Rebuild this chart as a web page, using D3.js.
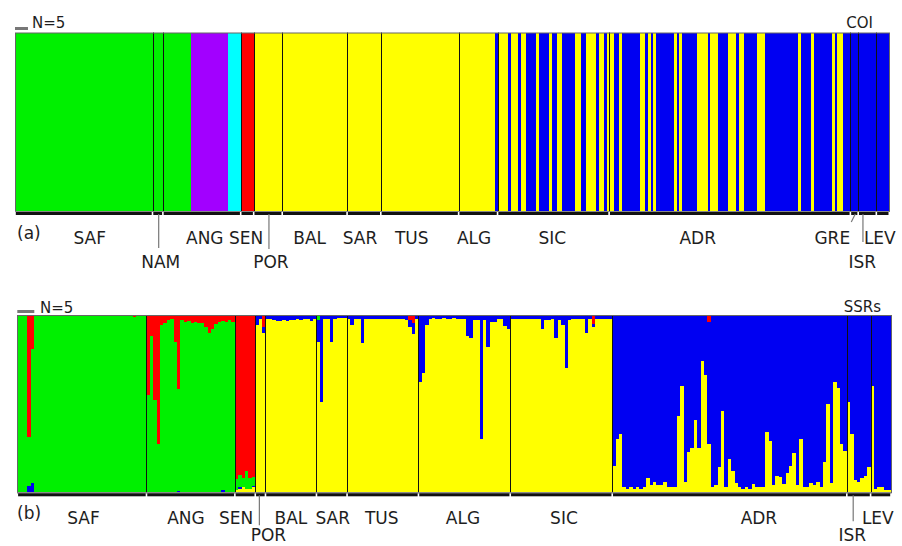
<!DOCTYPE html>
<html>
<head>
<meta charset="utf-8">
<script src="https://cdn.jsdelivr.net/npm/d3@7/dist/d3.min.js"></script>
<style>
body { margin: 0; background: #fff; }
text { font-family: "DejaVu Sans", Verdana, sans-serif; fill: #1e1e1e; }
</style>
</head>
<body>
<div id="chart"></div>
<script>
// ---------- (a) COI haplogroups ----------
var coiPops = ["SAF","NAM","ANG","SEN","POR","BAL","SAR","TUS","ALG","SIC","ADR","GRE","ISR","LEV"];
// runs of [haplogroup, number of individuals] inside each population
var coiRuns = [
  [["G",53]],
  [["G",4]],
  [["G",11],["P",14],["C",5]],
  [["R",5]],
  [["Y",11]],
  [["Y",25]],
  [["Y",13]],
  [["Y",30]],
  [["Y",14],["B",1]],
  [["Y",4],["B",1],["Y",3],["B",1],["Y",2],["B",4],["Y",1],["B",4],["Y",1],["B",2],
   ["Y",2],["B",5],["Y",2],["B",2],["Y",4],["B",1],["Y",2],["B",1],["Y",1]],
  [["Y",2],["B",2],["Y",1],["B",7],["Y",2],["B",1],["Y",1],["B",1],["Y",1],["B",7],
   ["Y",1],["B",1],["Y",1],["B",6],["Y",4],["B",1],["Y",3],["B",4],["Y",3],["B",1],
   ["Y",2],["B",5],["Y",3],["B",13],["Y",1],["B",4],["Y",1],["B",7],["Y",1],["B",1],
   ["Y",2],["B",3]],
  [["B",3]],
  [["B",7]],
  [["B",5]]
];
var coiColors = {G:"#00f000", P:"#a200ff", C:"#00ffff", R:"#ff0000", Y:"#ffff00", B:"#0000f2"};

// ---------- (b) SSR admixture, one row per individual: [yellow, blue, green, red]
// null = the population's main cluster (1 minus the rest)
var ssrPops = ["SAF","ANG","SEN","POR","BAL","SAR","TUS","ALG","SIC","ADR","ISR","LEV"];
var qSAF = [
  [0,0,null,0],[0,0,null,0],[0,0,null,0],[0,0.035,null,0.69],[0,0.05,null,0.19],
  [0,0,null,0],[0,0,null,0],[0,0,null,0],[0,0,null,0],[0,0,null,0],
  [0,0,null,0],[0,0,null,0],[0,0,null,0],[0,0,null,0],[0,0,null,0],
  [0,0,null,0],[0,0,null,0],[0,0,null,0],[0,0,null,0],[0,0,null,0],
  [0,0,null,0],[0,0,null,0],[0,0,null,0],[0,0,null,0],[0,0,null,0],
  [0,0,null,0],[0,0,null,0],[0,0,null,0],[0,0,null,0],[0,0,null,0],
  [0,0,null,0],[0,0,null,0],[0,0,null,0],[0,0,null,0],[0,0,null,0.01],
  [0,0,null,0],[0,0,null,0],[0,0,null,0]
];
var qANG = [
  [0,0,null,0.45],[0,0,null,0.12],[0,0,null,0.48],[0,0,null,0.73],[0,0,null,0.056],
  [0,0,null,0.043],[0,0,null,0.03],[0,0,null,0.025],[0,0,null,0.15],[0,0.01,null,0.42],
  [0,0,null,0.03],[0,0,null,0.04],[0,0,null,0.035],[0,0,null,0.045],[0,0,null,0.04],
  [0,0,null,0.045],[0,0,null,0.045],[0,0,null,0.07],[0,0,null,0.10],[0,0,null,0.08],
  [0,0,null,0.05],[0,0,null,0.04],[0,0.015,null,0.035],[0,0,null,0.04],[0,0,null,0.03],
  [0,0,null,0.04]
];
var qSEN = [
  [0.015,0,0.06,null],[0.02,0.01,0.07,null],[0.03,0,0.05,null],
  [0.02,0,0.10,null],[0.02,0,0.06,null],[0.03,0.005,0.05,null]
];
var qPOR = [[null,0.056,0,0],[null,0.02,0,0],[null,0.03,0,0.07]];
var qBAL = [
  [null,0.025,0,0],[null,0.02,0,0],[null,0.03,0,0],[null,0.035,0,0],[null,0.035,0,0],
  [null,0.03,0,0],[null,0.035,0,0],[null,0.03,0,0],[null,0.03,0,0],[null,0.025,0,0],
  [null,0.03,0,0],[null,0.02,0,0],[null,0.02,0,0],[null,0.025,0,0.008],[null,0.02,0,0]
];
var qSAR = [
  [null,0.12,0.03,0],[null,0.49,0,0],[null,0.02,0,0],[null,0.02,0,0],[null,0.15,0,0],
  [null,0.015,0,0.005],[null,0.015,0,0],[null,0.015,0,0],[null,0.015,0,0]
];
var qTUS = [
  [null,0.02,0,0],[null,0.056,0,0],[null,0.02,0,0],[null,0.025,0,0],[null,0.16,0,0],
  [null,0.02,0,0],[null,0.02,0,0],[null,0.025,0,0],[null,0.02,0,0],[null,0.02,0,0],
  [null,0.02,0,0],[null,0.025,0,0],[null,0.02,0,0],[null,0.02,0,0],[null,0.02,0,0],
  [null,0.025,0,0],[null,0.02,0,0],[null,0.03,0,0],[null,0.035,0,0.03],[null,0.06,0,0.045],
  [null,0.02,0,0]
];
var qALG = [
  [null,0.376,0,0],[null,0.325,0,0],[null,0.056,0,0],[null,0.02,0,0],[null,0.015,0,0],
  [null,0.02,0,0],[null,0.02,0,0],[null,0.015,0,0],[null,0.02,0,0],[null,0.02,0,0],
  [null,0.015,0,0],[null,0.02,0,0],[null,0.02,0,0],[null,0.02,0,0],[null,0.12,0,0],
  [null,0.13,0,0],[null,0.03,0,0],[null,0.03,0,0],[null,0.70,0,0],[null,0.03,0,0],
  [null,0.18,0,0],[null,0.04,0,0],[null,0.04,0,0],[null,0.02,0,0],[null,0.02,0,0],
  [null,0.06,0,0],[null,0.08,0,0]
];
var qSIC = [
  [null,0.02,0,0],[null,0.02,0,0],[null,0.02,0,0],[null,0.025,0,0],[null,0.02,0,0],
  [null,0.02,0,0],[null,0.02,0,0],[null,0.025,0,0],[null,0.02,0,0],[null,0.08,0,0],
  [null,0.03,0,0],[null,0.03,0,0],[null,0.025,0,0],[null,0.13,0,0],[null,0.03,0,0],
  [null,0.056,0,0],[null,0.30,0,0],[null,0.03,0,0],[null,0.02,0,0],[null,0.02,0,0],
  [null,0.02,0,0],[null,0.02,0,0],[null,0.10,0,0],[null,0.025,0,0],[null,0.02,0,0.05],
  [null,0.02,0,0],[null,0.02,0,0],[null,0.02,0,0],[null,0.02,0,0],[null,0.02,0,0]
];
var qADR = [
  [0.15,null,0,0],[0.30,null,0,0],[0.33,null,0,0],[0.03,null,0,0],[0.02,null,0,0],
  [0.03,null,0,0],[0.02,null,0,0],[0.03,null,0,0],[0.02,null,0,0],[0.03,null,0,0],
  [0.08,null,0,0],[0.04,null,0,0],[0.06,null,0,0],[0.04,null,0,0],[0.04,null,0,0],
  [0.06,null,0,0],[0.03,null,0,0],[0.03,null,0,0],[0.03,null,0,0],[0.43,null,0,0],
  [0.60,null,0,0],[0.06,null,0,0],[0.23,null,0,0],[0.25,null,0,0],[0.41,null,0,0],
  [0.25,null,0,0],[0.74,null,0,0],[0.66,null,0,0],[0.27,null,0,0.04],[0.03,null,0,0],
  [0.04,null,0,0],[0.14,null,0,0],[0.46,null,0,0],[0.03,null,0,0],[0.19,null,0,0],
  [0.12,null,0,0],[0.05,null,0,0],[0.03,null,0,0],[0.02,null,0,0],[0.03,null,0,0],
  [0.02,null,0,0],[0.045,null,0,0],[0.03,null,0,0],[0.03,null,0,0],[0.03,null,0,0],
  [0.34,null,0,0],[0.29,null,0,0],[0.04,null,0,0],[0.09,null,0,0],[0.085,null,0,0],
  [0.045,null,0,0],[0.11,null,0,0],[0.15,null,0,0],[0.22,null,0,0],[0.04,null,0,0],
  [0.30,null,0,0],[0.03,null,0,0],[0.03,null,0,0],[0.055,null,0,0],[0.04,null,0,0],
  [0.06,null,0,0],[0.03,null,0,0],[0.17,null,0,0],[0.50,null,0,0],[0.05,null,0,0],
  [0.62,null,0,0],[0.59,null,0,0],[0.27,null,0,0],[0.235,null,0,0]
];
var qISR = [[0.51,null,0,0],[0.33,null,0,0],[0.07,null,0,0],[0.06,null,0,0],[0.08,null,0,0],[0.09,null,0,0],[0.14,null,0,0]];
var qLEV = [[0.60,null,0,0],[0.02,null,0,0],[0.03,null,0,0],[0.03,null,0,0],[0.015,null,0,0],[0.015,null,0,0]];
var ssrQ = [qSAF,qANG,qSEN,qPOR,qBAL,qSAR,qTUS,qALG,qSIC,qADR,qISR,qLEV];
var ssrKeys = ["yellow","blue","green","red"];
var ssrColors = {yellow:"#ffff00", blue:"#0000f2", green:"#00f000", red:"#ff0000"};

// label placement (layout): [dx from population centre, row]
var coiLabelPos = [[6,0],[3,1],[3,0],[-1,0],[3,1],[-5,0],[-4,0],[-8,0],[-4,0],[-1,0],[-32,0],[-22,0],[-5,1],[-3,0]];
var ssrLabelPos = [[1.6,0],[-4.7,0],[-9,0],[8,1],[0,0],[1,0],[-1,0],[-1.4,0],[2.7,0],[29.4,0],[-6.5,1],[-3,0]];

var W = 902, H = 546;
var svg = d3.select("#chart").append("svg").attr("width", W).attr("height", H);

function popBounds(sizes) {
  var b = [0];
  sizes.forEach(function(s) { b.push(b[b.length - 1] + s); });
  return b;
}

function drawFrame(g, x, y, bounds, pops, labelPos, rows, leaders) {
  var top = y.range()[1], bot = y.range()[0];
  // population separators
  g.selectAll(".sep").data(bounds.slice(1, -1)).enter().append("line")
    .attr("x1", function(d) { return Math.round(x(d)) + 0.5; }).attr("x2", function(d) { return Math.round(x(d)) + 0.5; })
    .attr("y1", top).attr("y2", bot)
    .attr("stroke", "#111").attr("stroke-width", 1);
  // frame
  g.append("rect")
    .attr("x", Math.round(x(bounds[0])) + 0.5).attr("y", top + 0.5)
    .attr("width", Math.round(x(bounds[bounds.length - 1]) - x(bounds[0]))).attr("height", bot - top)
    .attr("fill", "none").attr("stroke", "#666").attr("stroke-width", 1);
  // baseline under each population
  g.append("line").attr("x1", x(bounds[0])).attr("x2", x(bounds[bounds.length - 1]))
    .attr("y1", bot + 0.5).attr("y2", bot + 0.5).attr("stroke", "#888");
  g.selectAll(".base").data(pops).enter().append("rect")
    .attr("x", function(d, i) { return x(bounds[i]) + 0.8; })
    .attr("width", function(d, i) { return x(bounds[i + 1]) - x(bounds[i]) - 1.6; })
    .attr("y", bot + 1).attr("height", 3).attr("fill", "#111");
  // labels
  g.selectAll(".lab").data(pops).enter().append("text")
    .attr("x", function(d, i) { return (x(bounds[i]) + x(bounds[i + 1])) / 2 + labelPos[i][0]; })
    .attr("y", function(d, i) { return rows[labelPos[i][1]]; })
    .attr("text-anchor", "middle").attr("font-size", 17)
    .text(function(d) { return d; });
  // leader lines for the second-row labels
  g.selectAll(".lead").data(leaders).enter().append("line")
    .attr("x1", function(d) { var i = pops.indexOf(d[0]); return (x(bounds[i]) + x(bounds[i + 1])) / 2 + d[1]; })
    .attr("x2", function(d) { var i = pops.indexOf(d[0]); return (x(bounds[i]) + x(bounds[i + 1])) / 2 + d[2]; })
    .attr("y1", bot + 3).attr("y2", function(d) { return bot + d[3]; })
    .attr("stroke", "#777").attr("stroke-width", 1.2);
}

// snap bar edges to whole pixels so neighbours meet without seams
function px(scale, v) { return Math.round(scale(v)); }

// ---------- panel (a)
var coiSizes = coiRuns.map(function(r) { return d3.sum(r, function(d) { return d[1]; }); });
var coiBounds = popBounds(coiSizes);
var coiInd = [];
coiRuns.forEach(function(runs) {
  runs.forEach(function(r) { for (var k = 0; k < r[1]; k++) coiInd.push(r[0]); });
});
var xA = d3.scaleLinear().domain([0, coiInd.length]).range([15, 889.3]);
var yA = d3.scaleLinear().domain([0, 1]).range([211, 32.5]);
var gA = svg.append("g");
gA.selectAll(".ind").data(coiInd).enter().append("rect")
  .attr("shape-rendering", "crispEdges")
  .attr("x", function(d, i) { return px(xA, i); })
  .attr("width", function(d, i) { return px(xA, i + 1) - px(xA, i); })
  .attr("y", Math.round(yA(1))).attr("height", Math.round(yA(0) - yA(1)))
  .attr("fill", function(d) { return coiColors[d]; });
drawFrame(gA, xA, yA, coiBounds, coiPops, coiLabelPos, [244, 268],
  [["NAM", 1, 1, 37], ["POR", 1, 1, 38], ["GRE", 1, -3, 11], ["ISR", -4.3, -4.3, 31]]);
gA.append("rect").attr("x", xA(0)).attr("y", 27).attr("width", xA(5) - xA(0)).attr("height", 3).attr("fill", "#777");
gA.append("text").attr("x", 32).attr("y", 28).attr("font-size", 15).text("N=5");
gA.append("text").attr("x", 873).attr("y", 28).attr("font-size", 15).attr("text-anchor", "end").text("COI");
gA.append("text").attr("x", 17).attr("y", 239).attr("font-size", 17).text("(a)");

// ---------- panel (b)
var ssrSizes = ssrQ.map(function(q) { return q.length; });
var ssrBounds = popBounds(ssrSizes);
var ssrRows = [];
ssrQ.forEach(function(q) {
  q.forEach(function(r) {
    var rest = d3.sum(r, function(v) { return v == null ? 0 : v; });
    var row = {};
    ssrKeys.forEach(function(k, j) { row[k] = r[j] == null ? 1 - rest : r[j]; });
    ssrRows.push(row);
  });
});
var xB = d3.scaleLinear().domain([0, ssrRows.length]).range([17.3, 891]);
var yB = d3.scaleLinear().domain([0, 1]).range([492.3, 315]);
var series = d3.stack().keys(ssrKeys)(ssrRows);
var gB = svg.append("g");
gB.selectAll(".layer").data(series).enter().append("g")
  .attr("fill", function(d) { return ssrColors[d.key]; })
  .attr("shape-rendering", "crispEdges")
  .selectAll("rect").data(function(d) { return d; }).enter().append("rect")
  .attr("x", function(d, i) { return px(xB, i); })
  .attr("width", function(d, i) { return px(xB, i + 1) - px(xB, i); })
  .attr("y", function(d) { return Math.round(yB(d[1])); })
  .attr("height", function(d) { return Math.max(0, Math.round(yB(d[0])) - Math.round(yB(d[1]))); });
drawFrame(gB, xB, yB, ssrBounds, ssrPops, ssrLabelPos, [524, 541],
  [["POR", -1, -1, 33], ["ISR", -5.5, -5.5, 29]]);
gB.append("rect").attr("x", xB(0)).attr("y", 310).attr("width", xB(5) - xB(0)).attr("height", 3).attr("fill", "#777");
gB.append("text").attr("x", 40).attr("y", 313).attr("font-size", 15).text("N=5");
gB.append("text").attr("x", 881).attr("y", 312).attr("font-size", 15).attr("text-anchor", "end").text("SSRs");
gB.append("text").attr("x", 17).attr("y", 519).attr("font-size", 17).text("(b)");
</script>
</body>
</html>
